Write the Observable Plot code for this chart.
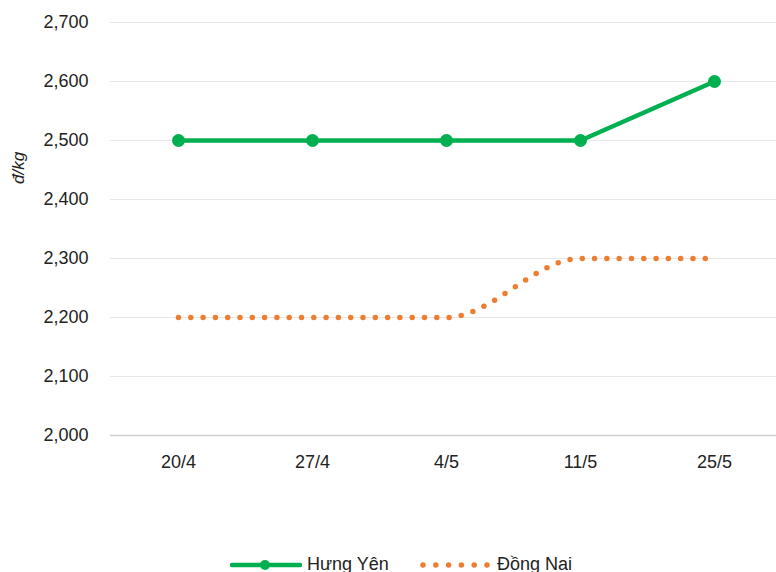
<!DOCTYPE html>
<html><head><meta charset="utf-8">
<script src="https://cdn.jsdelivr.net/npm/d3@7"></script>
<script src="https://cdn.jsdelivr.net/npm/@observablehq/plot@0.6"></script>
<style>
body{margin:0;background:#fff;font-family:"Liberation Sans",Arial,sans-serif;}
#legend{position:relative;height:32px;font-size:18px;color:#222;}
.li{position:absolute;top:14px;display:flex;align-items:center;}
</style></head>
<body><div id="chart"></div><div id="legend"></div>
<script>
const dates = ["20/4","27/4","4/5","11/5","25/5"];
const hungYen = [2500,2500,2500,2500,2600];
const dongNai = [2200,2200,2200,2300,2300];
const yTicks = [2000,2100,2200,2300,2400,2500,2600,2700];
const seriesNames = ["Hưng Yên","Đồng Nai"];
const colors = ["#00b050","#ed7d31"];

const hy = dates.map((d,i)=>({d, v:hungYen[i]}));
const dn = dates.map((d,i)=>({d, v:dongNai[i]}));

const chart = Plot.plot({
  width: 776, height: 540,
  marginLeft: 110, marginRight: 0, marginTop: 22, marginBottom: 105,
  style:{fontFamily:"Liberation Sans, Arial, sans-serif", fontSize:"18px", color:"#222", background:"#fff"},
  x:{type:"point", domain:dates, range:[177,715], padding:0, label:null, tickSize:0, tickPadding:20},
  y:{domain:[2000,2700], ticks:yTicks, tickFormat:d3.format(","), label:null, tickSize:0, tickPadding:22},
  marks:[
    Plot.ruleY(yTicks.filter(t=>t>2000), {stroke:"#e8e8e8", strokeWidth:1}),
    Plot.ruleY([2000], {stroke:"#d0d0d0", strokeWidth:1.5}),
    Plot.line(dn, {x:"d", y:"v", stroke:colors[1], strokeWidth:5.5, strokeDasharray:"0 12.3", strokeLinecap:"round", curve:"monotone-x"}),
    Plot.line(hy, {x:"d", y:"v", stroke:colors[0], strokeWidth:4.5}),
    Plot.dot(hy, {x:"d", y:"v", fill:colors[0], r:6.5}),
    Plot.text(["đ/kg"], {frameAnchor:"left", dx:-92, dy:-45, rotate:-90, fontStyle:"italic", fontSize:17, fill:"#222"})
  ]
});
document.getElementById("chart").appendChild(chart);

const lg = document.getElementById("legend");
lg.innerHTML = `
<div class="li" style="left:228px"><svg width="74" height="14"><line x1="4" y1="7" x2="72" y2="7" stroke="${colors[0]}" stroke-width="4.5" stroke-linecap="round"/><circle cx="37" cy="7" r="5" fill="${colors[0]}"/></svg><span style="margin-left:5px">${seriesNames[0]}</span></div>
<div class="li" style="left:418px"><svg width="72" height="14"><line x1="5" y1="7" x2="70" y2="7" stroke="${colors[1]}" stroke-width="5.5" stroke-dasharray="0 12.8" stroke-linecap="round"/></svg><span style="margin-left:7px">${seriesNames[1]}</span></div>`;
</script></body></html>
